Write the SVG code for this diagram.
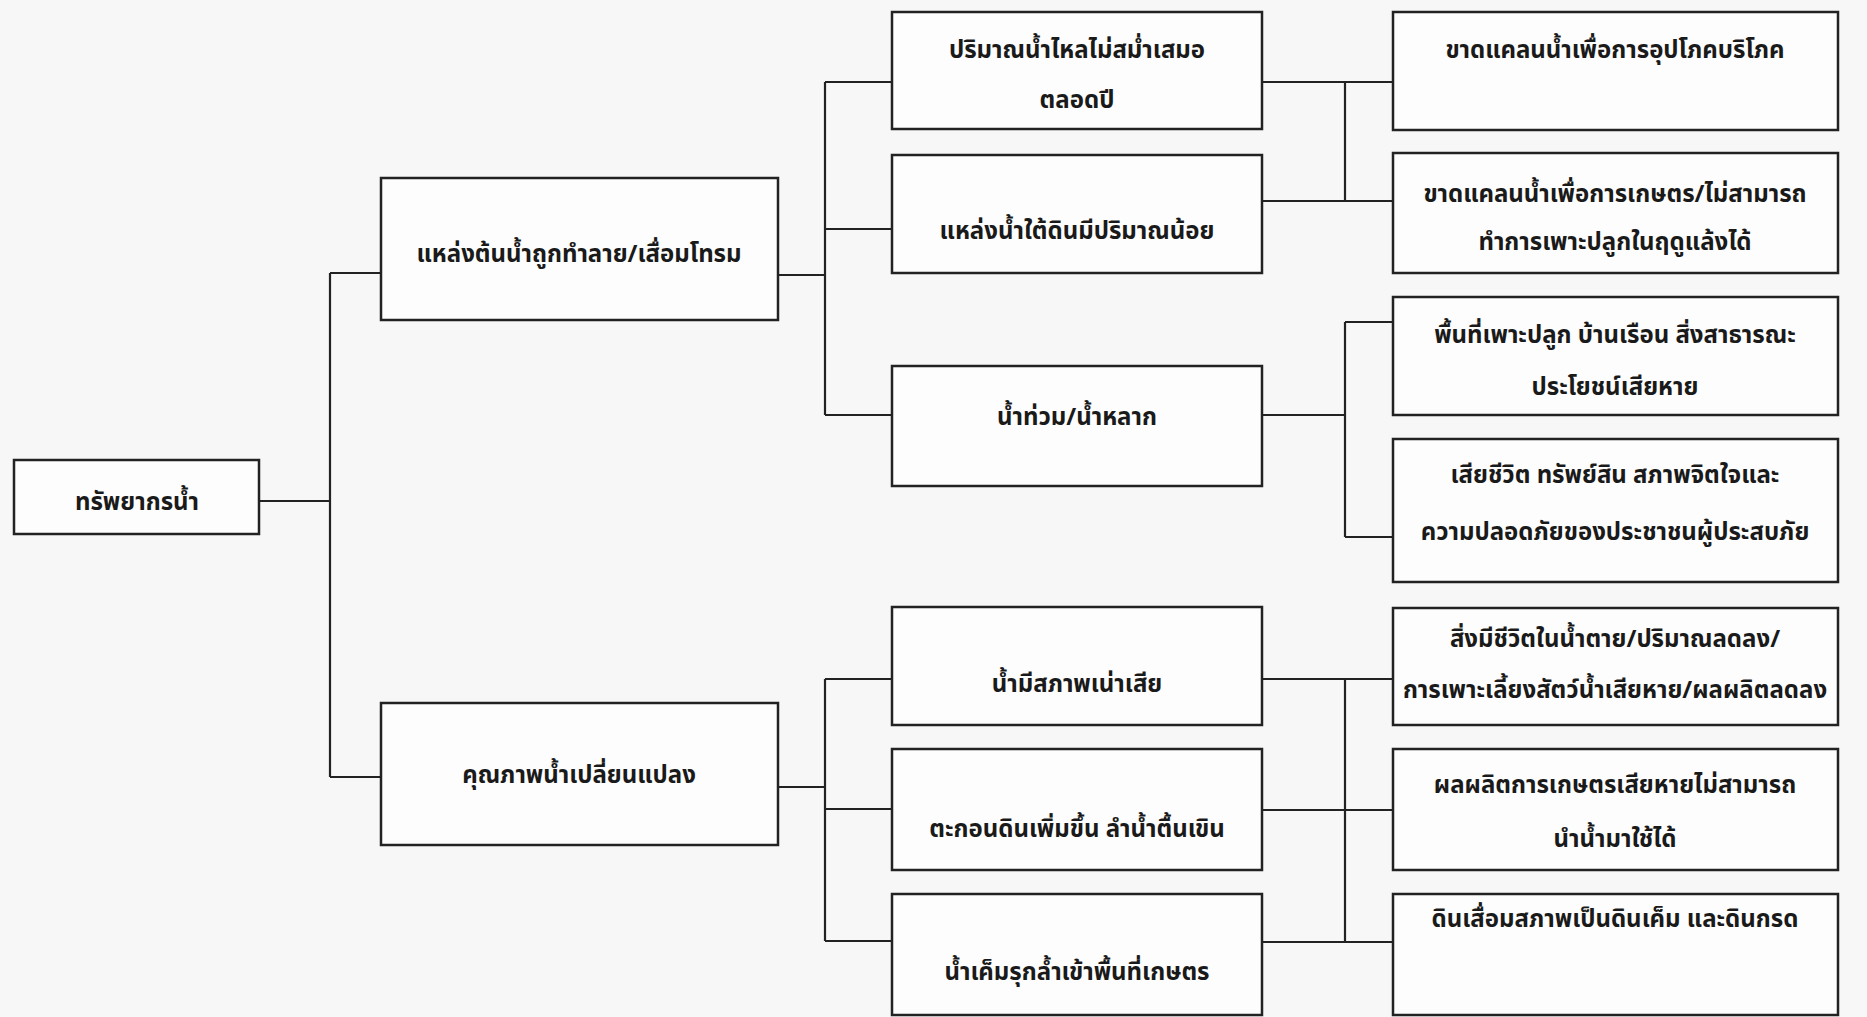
<svg xmlns="http://www.w3.org/2000/svg" width="1867" height="1017" viewBox="0 0 1867 1017">
<style>
.box{fill:#fdfdfd;stroke:#222;stroke-width:2.5}
.ln{fill:none;stroke:#222;stroke-width:2.2}
text{font-family:"Noto Sans Thai","Noto Sans","DejaVu Sans",sans-serif;font-size:24px;font-weight:bold;fill:#1a1a1a;text-anchor:middle}
</style>
<rect width="1867" height="1017" fill="#f7f7f7"/>
<g id="connectors">
<path class="ln" d="M259 501H330M330 273V777M330 273H381M330 777H381"/>
<path class="ln" d="M778 275H825M825 82V415M825 82H892M825 229H892M825 415H892"/>
<path class="ln" d="M778 787H825M825 679V941M825 679H892M825 809H892M825 941H892"/>
<path class="ln" d="M1262 82H1393M1262 201H1393M1345 82V201"/>
<path class="ln" d="M1262 415H1345M1345 322V537M1345 322H1393M1345 537H1393"/>
<path class="ln" d="M1262 679H1393M1262 810H1393M1262 942H1393M1345 679V942"/>
</g>
<g id="root"><rect class="box" x="14" y="460" width="245" height="74"/><text x="137" y="510">ทรัพยากรน้ำ</text></g>
<g id="a"><rect class="box" x="381" y="178" width="397" height="142"/><text x="579" y="262">แหล่งต้นน้ำถูกทำลาย/เสื่อมโทรม</text></g>
<g id="b"><rect class="box" x="381" y="703" width="397" height="142"/><text x="579" y="783">คุณภาพน้ำเปลี่ยนแปลง</text></g>
<g id="m1"><rect class="box" x="892" y="12" width="370" height="117"/><text x="1077" y="58">ปริมาณน้ำไหลไม่สม่ำเสมอ</text><text x="1077" y="108">ตลอดปี</text></g>
<g id="m2"><rect class="box" x="892" y="155" width="370" height="118"/><text x="1077" y="239">แหล่งน้ำใต้ดินมีปริมาณน้อย</text></g>
<g id="m3"><rect class="box" x="892" y="366" width="370" height="120"/><text x="1077" y="425">น้ำท่วม/น้ำหลาก</text></g>
<g id="m4"><rect class="box" x="892" y="607" width="370" height="118"/><text x="1077" y="692">น้ำมีสภาพเน่าเสีย</text></g>
<g id="m5"><rect class="box" x="892" y="749" width="370" height="121"/><text x="1077" y="837">ตะกอนดินเพิ่มขึ้น ลำน้ำตื้นเขิน</text></g>
<g id="m6"><rect class="box" x="892" y="894" width="370" height="121"/><text x="1077" y="980">น้ำเค็มรุกล้ำเข้าพื้นที่เกษตร</text></g>
<g id="r1"><rect class="box" x="1393" y="12" width="445" height="118"/><text x="1615" y="58">ขาดแคลนน้ำเพื่อการอุปโภคบริโภค</text></g>
<g id="r2"><rect class="box" x="1393" y="153" width="445" height="120"/><text x="1615" y="202">ขาดแคลนน้ำเพื่อการเกษตร/ไม่สามารถ</text><text x="1615" y="250">ทำการเพาะปลูกในฤดูแล้งได้</text></g>
<g id="r3"><rect class="box" x="1393" y="297" width="445" height="118"/><text x="1615" y="343">พื้นที่เพาะปลูก บ้านเรือน สิ่งสาธารณะ</text><text x="1615" y="395">ประโยชน์เสียหาย</text></g>
<g id="r4"><rect class="box" x="1393" y="439" width="445" height="143"/><text x="1615" y="483">เสียชีวิต ทรัพย์สิน สภาพจิตใจและ</text><text x="1615" y="540">ความปลอดภัยของประชาชนผู้ประสบภัย</text></g>
<g id="r5"><rect class="box" x="1393" y="608" width="445" height="117"/><text x="1615" y="647">สิ่งมีชีวิตในน้ำตาย/ปริมาณลดลง/</text><text x="1615" y="698">การเพาะเลี้ยงสัตว์น้ำเสียหาย/ผลผลิตลดลง</text></g>
<g id="r6"><rect class="box" x="1393" y="749" width="445" height="121"/><text x="1615" y="793">ผลผลิตการเกษตรเสียหายไม่สามารถ</text><text x="1615" y="847">นำน้ำมาใช้ได้</text></g>
<g id="r7"><rect class="box" x="1393" y="894" width="445" height="121"/><text x="1615" y="927">ดินเสื่อมสภาพเป็นดินเค็ม และดินกรด</text></g>
</svg>
